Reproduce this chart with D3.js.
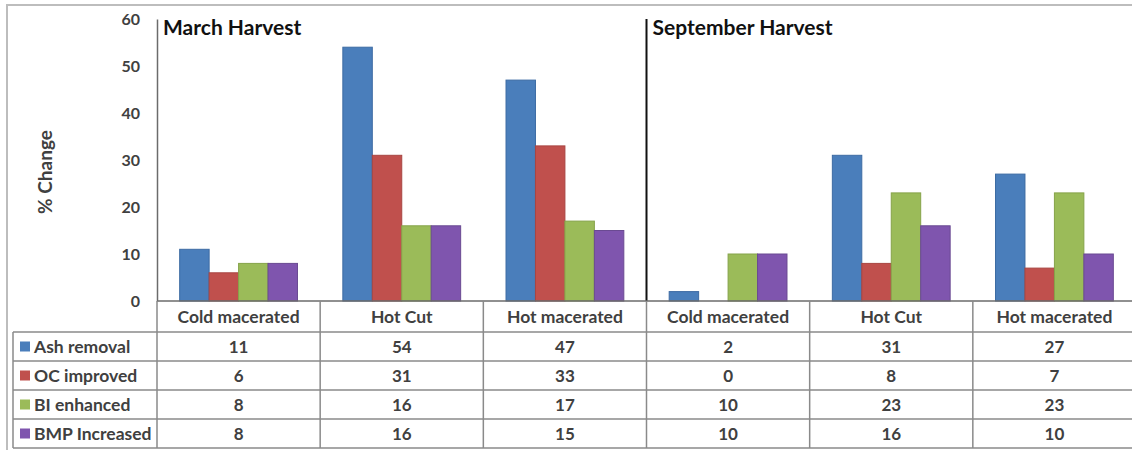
<!DOCTYPE html>
<html>
<head>
<meta charset="utf-8">
<script src="https://cdn.jsdelivr.net/npm/d3@7"></script>
<style>
  body { margin: 0; background: #fff; }
  text { font-family: Lato, "Open Sans", sans-serif; }
</style>
</head>
<body>
<script>
// chart values
var harvests = ["March Harvest", "September Harvest"];
var treatments = ["Cold macerated", "Hot Cut", "Hot macerated"];
var seriesNames = ["Ash removal", "OC improved", "BI enhanced", "BMP Increased"];
var ashRemoval = [11, 54, 47, 2, 31, 27];
var ocImproved = [6, 31, 33, 0, 8, 7];
var biEnhanced = [8, 16, 17, 10, 23, 23];
var bmpIncreased = [8, 16, 15, 10, 16, 10];
var yTicks = [0, 10, 20, 30, 40, 50, 60];

var seriesValues = [ashRemoval, ocImproved, biEnhanced, bmpIncreased];
var fills = ["#4a7ebb", "#c0504d", "#9bbb59", "#7f55ae"];
var strokes = ["#3d6ba3", "#a84542", "#86a34a", "#6a4a92"];

// 6 columns: 3 treatments for each harvest
var columns = [];
harvests.forEach(function (h, hi) {
    treatments.forEach(function (t) {
        columns.push({ harvest: hi, label: t });
    });
});

var W = 1132, H = 450;
var svg = d3.select('body').append('svg')
    .attr('width', W)
    .attr('height', H);

// outer frame
svg.append('rect')
    .attr('x', 7).attr('y', 5)
    .attr('width', W).attr('height', H + 10)
    .attr('fill', 'none')
    .attr('stroke', '#bdbdbd')
    .attr('stroke-width', 2);

var x = d3.scaleBand()
    .domain(d3.range(columns.length))
    .range([157, 1136]);
var xs = d3.scaleBand()
    .domain(d3.range(seriesNames.length))
    .range([0, x.bandwidth()])
    .paddingOuter(0.77);
var y = d3.scaleLinear()
    .domain([0, 60])
    .range([301, 19]);

// y axis labels
var yAxis = svg.append('g')
    .attr('transform', 'translate(157,0)')
    .call(d3.axisLeft(y).tickValues(yTicks).tickSize(0).tickPadding(17));
yAxis.select('.domain').attr('stroke', '#6b6b6b').attr('stroke-width', 1.5);
yAxis.selectAll('text')
    .attr('font-size', 16)
    .attr('font-weight', 'bold')
    .attr('fill', '#404040')
    .attr('font-family', 'Lato, sans-serif');

svg.append('text')
    .attr('transform', 'translate(52,172) rotate(-90)')
    .attr('text-anchor', 'middle')
    .attr('font-size', 19)
    .attr('font-weight', 'bold')
    .attr('fill', '#404040')
    .text('% Change');

// separator between harvests
svg.append('line')
    .attr('x1', x(3)).attr('x2', x(3))
    .attr('y1', y(60)).attr('y2', y(0))
    .attr('stroke', '#111')
    .attr('stroke-width', 2);

// harvest titles
svg.selectAll('text.harvest')
    .data(harvests)
    .enter().append('text')
    .attr('class', 'harvest')
    .attr('x', function (d, i) { return x(i * 3) + 6; })
    .attr('y', 35)
    .attr('font-size', 21)
    .attr('font-weight', 'bold')
    .attr('fill', '#111')
    .text(function (d) { return d; });

// bars
seriesValues.forEach(function (vals, si) {
    svg.append('g').selectAll('rect')
        .data(vals)
        .enter().append('rect')
        .attr('x', function (d, i) { return x(i) + xs(si); })
        .attr('y', function (d) { return y(d); })
        .attr('width', xs.bandwidth())
        .attr('height', function (d) { return y(0) - y(d); })
        .attr('fill', fills[si])
        .attr('stroke', strokes[si])
        .attr('stroke-width', 1);
});

// data table
var rowTop = 301, headH = 31, rowH = 29, legendLeft = 13;
var rowY = function (r) { return rowTop + headH + r * rowH; };
var tableBottom = rowY(seriesNames.length);
var grid = svg.append('g').attr('stroke', '#8a8a8a').attr('stroke-width', 1.5);

grid.append('line')
    .attr('x1', x(0)).attr('x2', W)
    .attr('y1', rowTop).attr('y2', rowTop)
    .attr('stroke', '#6b6b6b');
d3.range(seriesNames.length + 1).forEach(function (r) {
    grid.append('line')
        .attr('x1', legendLeft).attr('x2', W)
        .attr('y1', rowY(r)).attr('y2', rowY(r));
});
grid.append('line')
    .attr('x1', legendLeft).attr('x2', legendLeft)
    .attr('y1', rowY(0)).attr('y2', tableBottom);
d3.range(columns.length).forEach(function (c) {
    grid.append('line')
        .attr('x1', x(c)).attr('x2', x(c))
        .attr('y1', rowTop).attr('y2', tableBottom);
});

svg.selectAll('text.cat')
    .data(columns)
    .enter().append('text')
    .attr('class', 'cat')
    .attr('x', function (d, i) { return x(i) + x.bandwidth() / 2; })
    .attr('y', rowTop + headH / 2 + 6)
    .attr('text-anchor', 'middle')
    .attr('font-size', 17.5)
    .attr('font-weight', 'bold')
    .attr('fill', '#404040')
    .text(function (d) { return d.label; });

seriesNames.forEach(function (name, si) {
    var cy = rowY(si) + rowH / 2;
    svg.append('rect')
        .attr('x', 20).attr('y', cy - 5)
        .attr('width', 10).attr('height', 10)
        .attr('fill', fills[si]);
    svg.append('text')
        .attr('x', 34).attr('y', cy + 6)
        .attr('font-size', 17.5)
        .attr('font-weight', 'bold')
        .attr('fill', '#404040')
        .text(name);
    svg.append('g').selectAll('text')
        .data(seriesValues[si])
        .enter().append('text')
        .attr('x', function (d, i) { return x(i) + x.bandwidth() / 2; })
        .attr('y', cy + 6)
        .attr('text-anchor', 'middle')
        .attr('font-size', 17)
        .attr('font-weight', 'bold')
        .attr('fill', '#404040')
        .text(function (d) { return d; });
});
</script>
</body>
</html>
